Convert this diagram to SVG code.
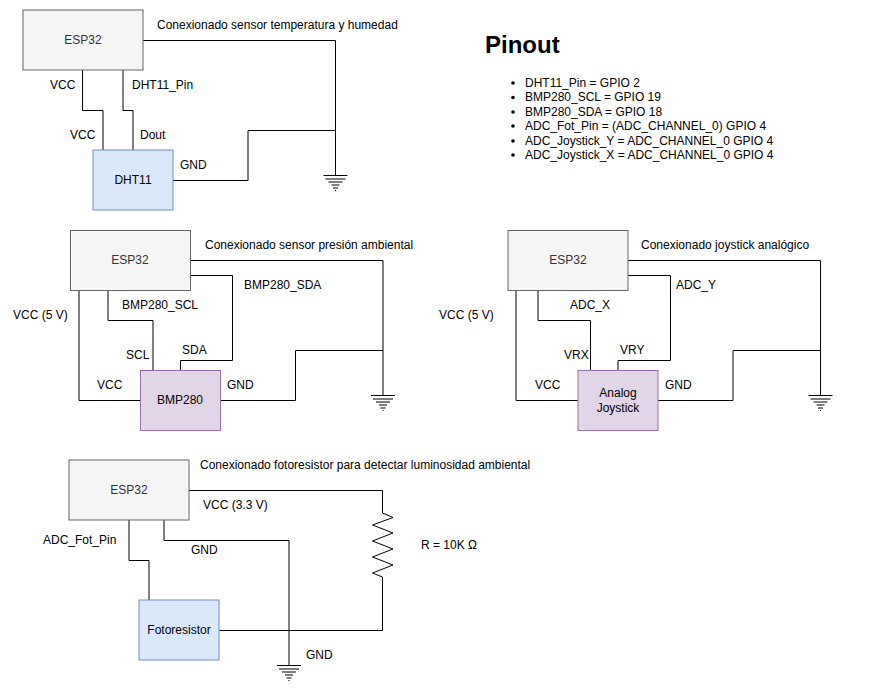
<svg xmlns="http://www.w3.org/2000/svg" width="881" height="691" viewBox="0 0 881 691">
<style>
text{font-family:"Liberation Sans",Arial,sans-serif;font-size:12px;fill:#000}
.n{text-anchor:middle}
.e{fill:#333}
.esp{fill:#f5f5f5;stroke:#666;stroke-width:1}
.blue{fill:#dae8fc;stroke:#6c8ebf;stroke-width:1}
.pur{fill:#e1d5e7;stroke:#9673a6;stroke-width:1}
.w{fill:none;stroke:#000;stroke-width:1}
</style>
<defs>
<g id="gnd" class="w"><path d="M-12 0H12M-10 3.500H10M-7 6.500H7M-4 9.500H4M-2.500 12.500H2.500M-.5 15H.5"/></g>
</defs>
<rect width="881" height="691" fill="#fff"/>
<g id="connectors">
<path class="w" d="M143 40.500H335.500V175M82.500 70V110.500H103V150M123 70V110.500H133V150M173 180.500H248V130.500H335.500"/>
<path class="w" d="M190 260.500H383V395M190 275.500H232.500V360.500H180.500V370M79 290V400.500H140M108 290V320.500H153V370M220 400.500H295.500V350.500H383"/>
<path class="w" d="M628 260.500H820.500V395M628 275.500H670.500V360.500H618V370M516 290V400.500H578M538 290V320.500H590.500V370M658 400.500H733V350.500H820.500"/>
<path class="w" d="M188 490.500H382.500V513L393 517.500L372.500 525L393 533L372.500 541L393 549L372.500 557L393 565L372.500 573L382.500 577V630.500H219M129 520V560.500H149V600M164 520V540.500H289V665"/>
<use href="#gnd" x="335.500" y="175.500"/>
<use href="#gnd" x="383" y="395.500"/>
<use href="#gnd" x="820.500" y="395.500"/>
<use href="#gnd" x="289" y="665.500"/>
</g>
<g id="esp32-1"><rect class="esp" x="23" y="10" width="120" height="60"/><text class="n e" x="83" y="44">ESP32</text></g>
<g id="dht11"><rect class="blue" x="93" y="150" width="80" height="60"/><text class="n" x="133" y="184">DHT11</text></g>
<g id="esp32-2"><rect class="esp" x="70.500" y="230.500" width="120" height="60"/><text class="n e" x="130" y="264">ESP32</text></g>
<g id="bmp280"><rect class="pur" x="140.500" y="370.500" width="80" height="60"/><text class="n" x="180" y="404">BMP280</text></g>
<g id="esp32-3"><rect class="esp" x="508" y="230.500" width="120" height="60"/><text class="n e" x="568" y="264">ESP32</text></g>
<g id="joystick"><rect class="pur" x="578" y="370.500" width="80" height="60"/><text class="n" x="618" y="397">Analog</text><text class="n" x="618" y="412">Joystick</text></g>
<g id="esp32-4"><rect class="esp" x="69" y="460" width="120" height="60"/><text class="n e" x="129" y="494">ESP32</text></g>
<g id="fotoresistor"><rect class="blue" x="139" y="600" width="80" height="60"/><text class="n" x="179" y="634">Fotoresistor</text></g>
<g id="labels">
<text x="157" y="29">Conexionado sensor temperatura y humedad</text>
<text x="50" y="89">VCC</text><text x="132" y="89">DHT11_Pin</text>
<text x="70" y="139">VCC</text><text x="140" y="139">Dout</text><text x="180" y="169">GND</text>
<text x="205" y="249">Conexionado sensor presión ambiental</text>
<text x="244" y="289">BMP280_SDA</text><text x="122" y="309">BMP280_SCL</text><text x="13" y="319">VCC (5 V)</text>
<text x="126" y="359">SCL</text><text x="182" y="354">SDA</text><text x="97" y="389">VCC</text><text x="227" y="389">GND</text>
<text x="641" y="249">Conexionado joystick analógico</text>
<text x="676" y="289">ADC_Y</text><text x="570" y="309">ADC_X</text><text x="439" y="319">VCC (5 V)</text>
<text x="564" y="359">VRX</text><text x="620" y="354">VRY</text><text x="535" y="389">VCC</text><text x="665" y="389">GND</text>
<text x="200" y="469">Conexionado fotoresistor para detectar luminosidad ambiental</text>
<text x="203" y="509">VCC (3.3 V)</text><text x="43" y="544">ADC_Fot_Pin</text><text x="191" y="554">GND</text>
<text x="421" y="549">R = 10K Ω</text><text x="306" y="659">GND</text>
</g>
<g id="pinout">
<text x="485" y="53" style="font-size:24px;font-weight:bold">Pinout</text>
<g fill="#000"><circle cx="513" cy="83" r="1.800"/><circle cx="513" cy="97.500" r="1.800"/><circle cx="513" cy="112" r="1.800"/><circle cx="513" cy="126" r="1.800"/><circle cx="513" cy="141" r="1.800"/><circle cx="513" cy="155" r="1.800"/></g>
<text x="525" y="87">DHT11_Pin = GPIO 2</text>
<text x="525" y="101">BMP280_SCL = GPIO 19</text>
<text x="525" y="116">BMP280_SDA = GPIO 18</text>
<text x="525" y="130">ADC_Fot_Pin = (ADC_CHANNEL_0) GPIO 4</text>
<text x="525" y="145">ADC_Joystick_Y = ADC_CHANNEL_0 GPIO 4</text>
<text x="525" y="159">ADC_Joystick_X = ADC_CHANNEL_0 GPIO 4</text>
</g>
</svg>
